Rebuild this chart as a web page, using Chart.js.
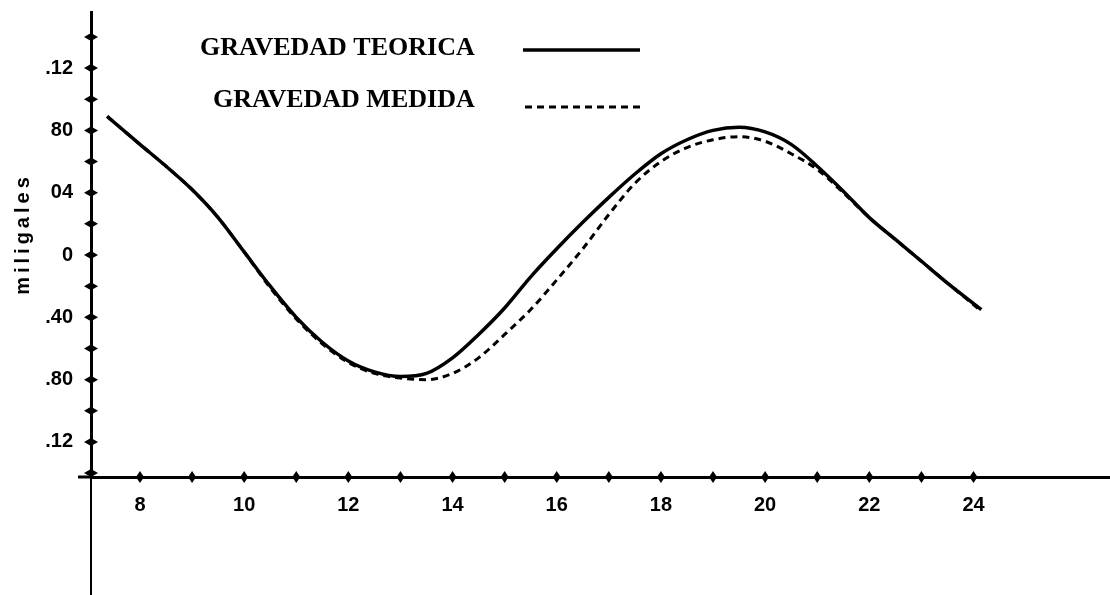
<!DOCTYPE html>
<html>
<head>
<meta charset="utf-8">
<title>Gravedad teorica y medida</title>
<script src="https://cdn.jsdelivr.net/npm/chart.js@4.4.1/dist/chart.umd.min.js"></script>
<style>
  html, body { margin: 0; padding: 0; background: #fff; }
</style>
</head>
<body>
<canvas id="gravityChart" width="1110" height="595"></canvas>
<script>
// DATOS (hora, miligales)
const horas = [7.37, 8, 8.5, 9, 9.5, 10, 10.5, 11, 11.5, 12, 12.5, 13, 13.5, 14, 14.5, 15, 15.5, 16,
  16.5, 17, 17.5, 18, 18.5, 19, 19.5, 20, 20.5, 21, 21.5, 22, 22.5, 23, 23.5, 24.15]

const gravedadTeorica = [0.089, 0.071, 0.057, 0.042, 0.024, 0.002, -0.020, -0.040, -0.056, -0.068,
  -0.075, -0.078, -0.076, -0.066, -0.051, -0.034, -0.014, 0.004, 0.021, 0.037, 0.052, 0.065, 0.074,
  0.080, 0.082, 0.079, 0.071, 0.057, 0.041, 0.024, 0.010, -0.004, -0.018, -0.035]

const gravedadMedida = [0.089, 0.071, 0.057, 0.042, 0.024, 0.002, -0.021, -0.041, -0.057, -0.069,
  -0.076, -0.079, -0.080, -0.076, -0.066, -0.051, -0.035, -0.016, 0.004, 0.026, 0.046, 0.060, 0.069,
  0.074, 0.076, 0.073, 0.065, 0.055, 0.040, 0.024, 0.010, -0.004, -0.018, -0.036]

const xTicks = [8, 9, 10, 11, 12, 13, 14, 15, 16, 17, 18, 19, 20, 21, 22, 23, 24]
const xTickLabels = ['8', '', '10', '', '12', '', '14', '', '16', '', '18', '', '20', '', '22', '', '24']

const yTicks = [-0.14, -0.12, -0.10, -0.08, -0.06, -0.04, -0.02, 0, 0.02, 0.04, 0.06, 0.08, 0.10, 0.12, 0.14]
const yTickLabels = ['', '.12', '', '.80', '', '.40', '', '0', '', '04', '', '80', '', '.12', '']

const seriesNames = ['GRAVEDAD TEORICA', 'GRAVEDAD MEDIDA']
const yTitle = 'miligales'

const tickFont = { family: '"Liberation Sans", Arial, sans-serif', size: 20, weight: 'bold' }

// marcas de los ejes, prolongaciones, leyenda y titulo del eje y
const decoraciones = {
  id: 'decoraciones',
  afterDraw(chart) {
    const ctx = chart.ctx
    const area = chart.chartArea
    const xs = chart.scales.x, ys = chart.scales.y
    ctx.save()
    ctx.fillStyle = '#000'
    ctx.strokeStyle = '#000'

    // eje y continua debajo del eje x
    ctx.lineWidth = 2
    ctx.beginPath()
    ctx.moveTo(area.left, area.bottom)
    ctx.lineTo(area.left, chart.height)
    ctx.stroke()
    // eje x un poco a la izquierda del eje y
    ctx.lineWidth = 3
    ctx.beginPath()
    ctx.moveTo(78, area.bottom)
    ctx.lineTo(area.left, area.bottom)
    ctx.stroke()

    // marcas cruzadas
    const diamond = (cx, cy, hw, hh) => {
      ctx.beginPath()
      ctx.moveTo(cx - hw, cy)
      ctx.lineTo(cx, cy - hh)
      ctx.lineTo(cx + hw, cy)
      ctx.lineTo(cx, cy + hh)
      ctx.closePath()
      ctx.fill()
    }
    xs.ticks.forEach(t => diamond(xs.getPixelForValue(t.value), area.bottom, 4, 6))
    ys.ticks.forEach(t => diamond(area.left, ys.getPixelForValue(t.value), 7, 4))

    // leyenda
    ctx.font = 'bold 26px "Liberation Serif", "Times New Roman", serif'
    ctx.textBaseline = 'middle'
    ctx.textAlign = 'left'
    const leg = [
      { text: seriesNames[0], tx: 200, ty: 48, x0: 523, x1: 640, ly: 50 },
      { text: seriesNames[1], tx: 213, ty: 100, x0: 525, x1: 640, ly: 107 }
    ]
    leg.forEach((l, i) => {
      const ds = chart.data.datasets[i]
      ctx.fillText(l.text, l.tx, l.ty)
      ctx.lineWidth = ds.borderWidth
      ctx.setLineDash(ds.borderDash || [])
      ctx.beginPath()
      ctx.moveTo(l.x0, l.ly)
      ctx.lineTo(l.x1, l.ly)
      ctx.stroke()
    })
    ctx.setLineDash([])

    // titulo del eje y
    ctx.translate(23, 234)
    ctx.rotate(-Math.PI / 2)
    ctx.font = 'bold 20px "Liberation Sans", Arial, sans-serif'
    ctx.letterSpacing = '4px'
    ctx.textAlign = 'center'
    ctx.fillText(yTitle, 0, 0)
    ctx.restore()
  }
}

new Chart(document.getElementById('gravityChart'), {
  type: 'line',
  data: {
    datasets: [
      {
        label: seriesNames[0],
        data: horas.map((h, i) => ({ x: h, y: gravedadTeorica[i] })),
        borderColor: '#000',
        borderWidth: 3.5,
        pointRadius: 0,
        fill: false,
        cubicInterpolationMode: 'monotone'
      },
      {
        label: seriesNames[1],
        data: horas.map((h, i) => ({ x: h, y: gravedadMedida[i] })),
        borderColor: '#000',
        borderWidth: 3,
        borderDash: [7, 5],
        pointRadius: 0,
        fill: false,
        cubicInterpolationMode: 'monotone'
      }
    ]
  },
  options: {
    responsive: false,
    devicePixelRatio: 1,
    animation: false,
    layout: { padding: { top: 12, left: 0, right: 0, bottom: 0 } },
    plugins: {
      legend: { display: false },
      tooltip: { enabled: false }
    },
    scales: {
      x: {
        type: 'linear',
        min: 7.06,
        max: 26.62,
        afterBuildTicks: (scale) => { scale.ticks = xTicks.map(v => ({ value: v })) },
        afterFit: (scale) => {
          scale.height = 118
          scale.paddingLeft = 0
          scale.paddingRight = 0
        },
        ticks: {
          callback: (value, index) => xTickLabels[index],
          autoSkip: false,
          maxRotation: 0,
          padding: 16,
          color: '#000',
          font: tickFont
        },
        grid: { display: false, drawTicks: false },
        border: { display: true, color: '#000', width: 3 }
      },
      y: {
        type: 'linear',
        min: -0.1425,
        max: 0.156,
        afterBuildTicks: (scale) => { scale.ticks = yTicks.map(v => ({ value: v })) },
        afterFit: (scale) => {
          scale.width = 91
          scale.paddingTop = 0
          scale.paddingBottom = 0
        },
        ticks: {
          callback: (value, index) => yTickLabels[index],
          autoSkip: false,
          padding: 18,
          color: '#000',
          font: tickFont
        },
        grid: { display: false, drawTicks: false },
        border: { display: true, color: '#000', width: 3 }
      }
    }
  },
  plugins: [decoraciones]
});
</script>
</body>
</html>
